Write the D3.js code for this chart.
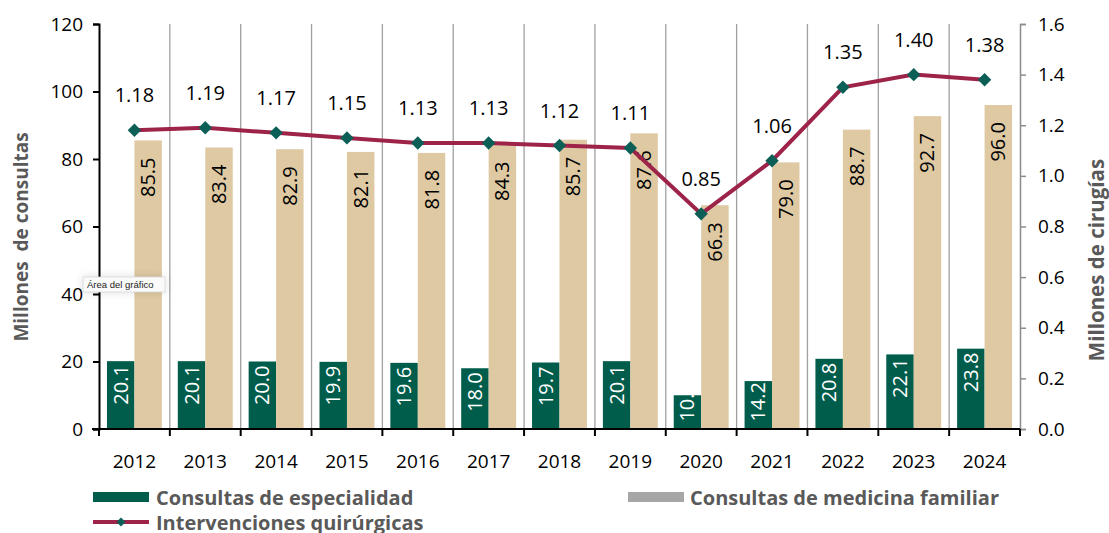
<!DOCTYPE html>
<html>
<head>
<meta charset="utf-8">
<script src="https://cdn.jsdelivr.net/npm/d3@7"></script>
<style>
  body { margin: 0; background: #fff; }
  text { font-family: "Open Sans", sans-serif; }
</style>
</head>
<body>
<svg id="chart"></svg>
<script>
var width = 1109;
var height = 533;

var years = ["2012", "2013", "2014", "2015", "2016", "2017", "2018", "2019", "2020", "2021", "2022", "2023", "2024"];
var especialidad = [20.1, 20.1, 20.0, 19.9, 19.6, 18.0, 19.7, 20.1, 10.0, 14.2, 20.8, 22.1, 23.8];
var familiar = [85.5, 83.4, 82.9, 82.1, 81.8, 84.3, 85.7, 87.6, 66.3, 79.0, 88.7, 92.7, 96.0];
var cirugias = [1.18, 1.19, 1.17, 1.15, 1.13, 1.13, 1.12, 1.11, 0.85, 1.06, 1.35, 1.40, 1.38];
var leftTicks = [0, 20, 40, 60, 80, 100, 120];
var rightTicks = [0, 0.2, 0.4, 0.6, 0.8, 1.0, 1.2, 1.4, 1.6];

var green = "#005c4b";
var beige = "#dec9a3";
var crimson = "#9d2448";
var teal = "#0c5f57";

const svg = d3.select('#chart')
    .attr('width', width)
    .attr('height', height);

var mLeft = 99, mRight = 1020, mTop = 24, mBottom = 429;

const x = d3.scaleBand().domain(years).range([mLeft, mRight]);
const xSub = d3.scaleBand().domain(["esp", "fam"]).range([0, x.bandwidth()]).paddingOuter(0.29);
const y = d3.scaleLinear().domain([0, 120]).range([mBottom, mTop]);
const y2 = d3.scaleLinear().domain([0, 1.6]).range([mBottom, mTop]);

// vertical gridlines between categories
svg.append('g').selectAll('line')
    .data(years.slice(1))
    .enter().append('line')
    .attr('x1', d => x(d)).attr('x2', d => x(d))
    .attr('y1', mTop).attr('y2', mBottom)
    .attr('stroke', '#a0a0a0').attr('stroke-width', 1.3);

// bars
var rows = years.map((yr, i) => ({ year: yr, esp: especialidad[i], fam: familiar[i], cir: cirugias[i] }));

const grp = svg.append('g').selectAll('g')
    .data(rows)
    .enter().append('g')
    .attr('transform', d => `translate(${x(d.year)},0)`);

grp.append('rect')
    .attr('x', xSub('esp')).attr('width', xSub.bandwidth())
    .attr('y', d => y(d.esp)).attr('height', d => mBottom - y(d.esp))
    .attr('fill', green);

grp.append('rect')
    .attr('x', xSub('fam')).attr('width', xSub.bandwidth())
    .attr('y', d => y(d.fam)).attr('height', d => mBottom - y(d.fam))
    .attr('fill', beige);

// bar labels (rotated)
grp.append('text')
    .attr('transform', function(d) {
        var cx = xSub('esp') + xSub.bandwidth() / 2;
        var h = mBottom - y(d.esp);
        var yy = h > 50 ? y(d.esp) + 4 : mBottom - 7 - 40;
        return `translate(${cx + 7},${yy}) rotate(-90)`;
    })
    .attr('text-anchor', 'end')
    .attr('fill', '#fff')
    .style('font-size', '20px')
    .text(d => d.esp.toFixed(1));

grp.append('text')
    .attr('transform', function(d) {
        var cx = xSub('fam') + xSub.bandwidth() / 2;
        return `translate(${cx + 7},${y(d.fam) + 17}) rotate(-90)`;
    })
    .attr('text-anchor', 'end')
    .attr('fill', '#000')
    .style('font-size', '20px')
    .text(d => d.fam.toFixed(1));

// line
const cx = d => x(d.year) + x.bandwidth() / 2;
const line = d3.line().x(cx).y(d => y2(d.cir));
svg.append('path')
    .datum(rows)
    .attr('d', line)
    .attr('fill', 'none')
    .attr('stroke', crimson)
    .attr('stroke-width', 4);

svg.append('g').selectAll('path')
    .data(rows)
    .enter().append('path')
    .attr('d', d3.symbol().type(d3.symbolSquare).size(90))
    .attr('transform', d => `translate(${cx(d)},${y2(d.cir)}) rotate(45)`)
    .attr('fill', teal);

svg.append('g').selectAll('text')
    .data(rows)
    .enter().append('text')
    .attr('x', cx)
    .attr('y', d => y2(d.cir) - 28)
    .attr('text-anchor', 'middle')
    .style('font-size', '20px')
    .attr('fill', '#000')
    .text(d => d.cir.toFixed(2));

// axes
const yAxis = svg.append('g')
    .attr('transform', `translate(${mLeft},0)`)
    .call(d3.axisLeft(y).tickValues(leftTicks).tickSize(6).tickPadding(10));
yAxis.select('.domain').attr('stroke', '#000').attr('stroke-width', 2);
yAxis.selectAll('.tick line').attr('stroke', '#000').attr('stroke-width', 2);
yAxis.selectAll('.tick text').style('font-size', '19px').attr('fill', '#000').style('font-family', '"Open Sans", sans-serif');

const y2Axis = svg.append('g')
    .attr('transform', `translate(${mRight},0)`)
    .call(d3.axisRight(y2).tickValues(rightTicks).tickFormat(d3.format('.1f')).tickSize(6).tickPadding(12));
y2Axis.select('.domain').attr('stroke', '#8c8c8c').attr('stroke-width', 1.5);
y2Axis.selectAll('.tick line').attr('stroke', '#8c8c8c').attr('stroke-width', 1.5);
y2Axis.selectAll('.tick text').style('font-size', '19px').attr('fill', '#000').style('font-family', '"Open Sans", sans-serif');

// bottom axis with ticks at category boundaries
const xb = svg.append('g');
xb.append('line')
    .attr('x1', mLeft - 7).attr('x2', mRight)
    .attr('y1', mBottom).attr('y2', mBottom)
    .attr('stroke', '#000').attr('stroke-width', 2);
xb.selectAll('line.tk')
    .data(years.concat(['end']))
    .enter().append('line')
    .attr('class', 'tk')
    .attr('x1', (d, i) => mLeft + i * x.step()).attr('x2', (d, i) => mLeft + i * x.step())
    .attr('y1', mBottom).attr('y2', mBottom + 7)
    .attr('stroke', '#000').attr('stroke-width', 2);
xb.selectAll('text')
    .data(years)
    .enter().append('text')
    .attr('x', d => cx({ year: d }))
    .attr('y', 468)
    .attr('text-anchor', 'middle')
    .style('font-size', '19px')
    .attr('fill', '#000')
    .text(d => d);

// axis titles
svg.append('text')
    .attr('transform', 'translate(28,237) rotate(-90)')
    .attr('text-anchor', 'middle')
    .attr('fill', '#595959')
    .style('font-size', '19px').style('font-weight', 'bold')
    .style('white-space', 'pre')
    .text('Millones  de consultas');

svg.append('text')
    .attr('transform', 'translate(1104,260) rotate(-90)')
    .attr('text-anchor', 'middle')
    .attr('fill', '#595959')
    .style('font-size', '20.5px').style('font-weight', 'bold')
    .text('Millones de cirugías');

// legend
const lg = svg.append('g');
lg.append('rect').attr('x', 93).attr('y', 492).attr('width', 56).attr('height', 10).attr('fill', green);
lg.append('text').attr('x', 156).attr('y', 505).attr('fill', '#595959')
    .style('font-size', '20px').style('font-weight', 'bold').text('Consultas de especialidad');
lg.append('rect').attr('x', 628).attr('y', 492).attr('width', 56).attr('height', 10).attr('fill', '#a6a6a6');
lg.append('text').attr('x', 690).attr('y', 505).attr('fill', '#595959')
    .style('font-size', '20px').style('font-weight', 'bold').text('Consultas de medicina familiar');
lg.append('line').attr('x1', 93).attr('x2', 149).attr('y1', 522).attr('y2', 522)
    .attr('stroke', crimson).attr('stroke-width', 4);
lg.append('path').attr('d', d3.symbol().type(d3.symbolSquare).size(40))
    .attr('transform', 'translate(121,522) rotate(45)').attr('fill', teal);
lg.append('text').attr('x', 156).attr('y', 530).attr('fill', '#595959')
    .style('font-size', '20px').style('font-weight', 'bold').text('Intervenciones quirúrgicas');

// "Área del gráfico" tooltip from the original screenshot
const tip = svg.append('g');
tip.append('rect').attr('x', 83).attr('y', 277).attr('width', 82).attr('height', 15)
    .attr('fill', '#fafafa').attr('stroke', '#d8d8d8').attr('stroke-width', 0.8)
    .style('filter', 'drop-shadow(0 0 4px rgba(0,0,0,0.12))');
tip.append('text').attr('x', 87).attr('y', 288).attr('fill', '#222')
    .style('font-size', '9.5px').style('font-family', '"Liberation Sans", sans-serif').text('Área del gráfico');
</script>
</body>
</html>
